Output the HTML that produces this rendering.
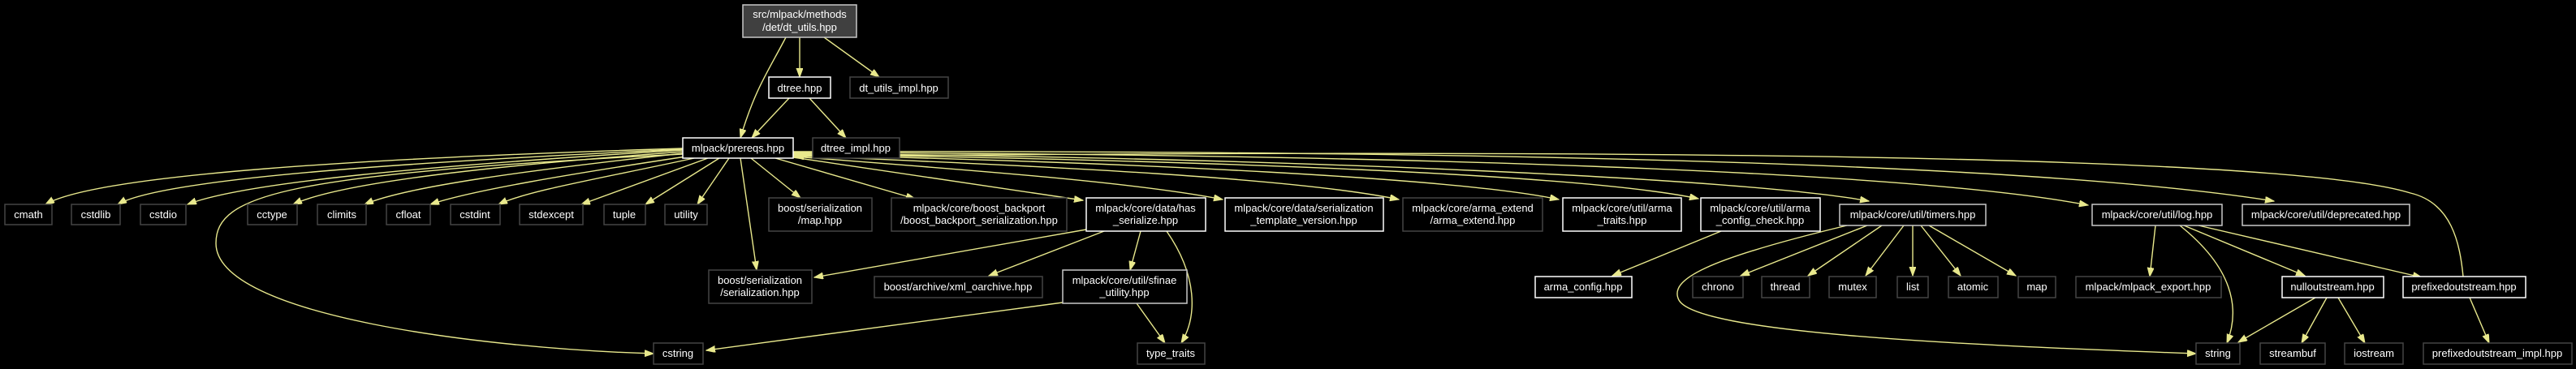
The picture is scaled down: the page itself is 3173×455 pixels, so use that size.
<!DOCTYPE html>
<html><head><meta charset="utf-8"><style>
html,body{margin:0;padding:0;background:#000;}
svg{display:block}
text{font-family:"Liberation Sans",sans-serif;font-size:13px;fill:#fff;text-anchor:middle}
.e{fill:none;stroke:#e8e88c;stroke-width:1.4}
.w{fill:#000;stroke:#ffffff;stroke-width:1.5}
.l{fill:#000;stroke:#c8c8c8;stroke-width:1.5}
.g{fill:#000;stroke:#444;stroke-width:1.5}
</style></head><body>
<svg width="3173" height="455" viewBox="0 0 3173 455" xmlns="http://www.w3.org/2000/svg">
<defs><marker id="a" markerUnits="userSpaceOnUse" markerWidth="12" markerHeight="10" refX="11" refY="4" orient="auto"><path d="M0,0 L11,4 L0,8 z" fill="#e8e88c" stroke="#e8e88c"/></marker></defs>
<rect width="3173" height="455" fill="#000"/>
<g marker-end="url(#a)">
<path class="e" d="M968,46 C945,90 930,110 912,170"/>
<path class="e" d="M985,46 L985,95"/>
<path class="e" d="M1015,46 L1083,95"/>
<path class="e" d="M972,121 L926,170"/>
<path class="e" d="M997,121 L1042,170"/>
<path class="e" d="M841,183 C450,195 120,215 56,252"/>
<path class="e" d="M841,184 C500,200 200,220 145,252"/>
<path class="e" d="M841,185 C520,205 300,225 231,252"/>
<path class="e" d="M841,187 C600,205 420,225 361,252"/>
<path class="e" d="M841,189 C650,210 500,230 449,252"/>
<path class="e" d="M845,193 C700,215 580,235 530,252"/>
<path class="e" d="M855,195 C740,220 650,235 614,252"/>
<path class="e" d="M872,195 L716,252"/>
<path class="e" d="M886,195 L795,252"/>
<path class="e" d="M898,195 L859,252"/>
<path class="e" d="M841,190 C350,215 266,240 266,300 C266,390 600,430 805,436"/>
<path class="e" d="M912,195 L932,333"/>
<path class="e" d="M925,195 L986,244"/>
<path class="e" d="M955,195 L1127,245"/>
<path class="e" d="M977,194 L1334,247"/>
<path class="e" d="M977,193 C1200,210 1400,225 1506,246"/>
<path class="e" d="M977,192 C1300,205 1600,220 1723,246"/>
<path class="e" d="M977,191 C1400,200 1800,220 1920,246"/>
<path class="e" d="M977,190 C1500,198 1950,215 2092,245"/>
<path class="e" d="M977,189 C1600,195 2150,220 2302,248"/>
<path class="e" d="M977,188 C1700,190 2350,210 2572,253"/>
<path class="e" d="M977,187 C1800,185 2500,200 2801,248"/>
<path class="e" d="M3034,341 C3030,300 3020,250 2969,238 C2800,185 1800,185 979,193"/>
<path class="e" d="M1338,283 L1003,342"/>
<path class="e" d="M1360,285 L1218,340"/>
<path class="e" d="M1405,285 L1392,333"/>
<path class="e" d="M1437,285 C1475,340 1475,390 1455,423"/>
<path class="e" d="M1309,373 L870,432"/>
<path class="e" d="M1400,374 L1435,423"/>
<path class="e" d="M2120,285 L1986,340"/>
<path class="e" d="M2300,278 L2144,340"/>
<path class="e" d="M2318,278 L2227,340"/>
<path class="e" d="M2345,278 L2298,340"/>
<path class="e" d="M2356,278 L2356,340"/>
<path class="e" d="M2366,278 L2415,340"/>
<path class="e" d="M2376,278 L2483,340"/>
<path class="e" d="M2275,278 C2100,320 2055,345 2068,370 C2090,410 2400,425 2705,436"/>
<path class="e" d="M2655,278 L2648,341"/>
<path class="e" d="M2685,278 C2750,330 2760,380 2743,423"/>
<path class="e" d="M2690,278 L2839,340"/>
<path class="e" d="M2708,278 L2983,342"/>
<path class="e" d="M2852,367 L2757,422"/>
<path class="e" d="M2866,367 L2835,423"/>
<path class="e" d="M2880,367 L2913,423"/>
<path class="e" d="M3042,367 L3066,423"/>
</g>
<rect x="915" y="6" width="140" height="40" fill="#404040" stroke="#c8c8c8" stroke-width="1.5"/>
<text x="985" y="22">src/mlpack/methods</text><text x="985" y="38">/det/dt_utils.hpp</text>
<rect class="w" x="947" y="95" width="76" height="26"/><text x="985" y="113">dtree.hpp</text>
<rect class="g" x="1047" y="95" width="121" height="26"/><text x="1107" y="113">dt_utils_impl.hpp</text>
<rect class="w" x="841" y="170" width="136" height="25"/><text x="909" y="187">mlpack/prereqs.hpp</text>
<rect class="g" x="1001" y="170" width="107" height="25"/><text x="1054" y="187">dtree_impl.hpp</text>
<g>
<rect class="g" x="6" y="252" width="58" height="25"/><text x="35" y="269">cmath</text>
<rect class="g" x="88" y="252" width="60" height="25"/><text x="118" y="269">cstdlib</text>
<rect class="g" x="173" y="252" width="56" height="25"/><text x="201" y="269">cstdio</text>
<rect class="g" x="305" y="252" width="61" height="25"/><text x="335" y="269">cctype</text>
<rect class="g" x="391" y="252" width="60" height="25"/><text x="421" y="269">climits</text>
<rect class="g" x="476" y="252" width="54" height="25"/><text x="503" y="269">cfloat</text>
<rect class="g" x="555" y="252" width="61" height="25"/><text x="585" y="269">cstdint</text>
<rect class="g" x="640" y="252" width="78" height="25"/><text x="679" y="269">stdexcept</text>
<rect class="g" x="744" y="252" width="51" height="25"/><text x="769" y="269">tuple</text>
<rect class="g" x="819" y="252" width="52" height="25"/><text x="845" y="269">utility</text>
<rect class="g" x="947" y="244" width="127" height="41"/><text x="1010" y="261">boost/serialization</text><text x="1010" y="276">/map.hpp</text>
<rect class="g" x="1098" y="244" width="216" height="41"/><text x="1206" y="261">mlpack/core/boost_backport</text><text x="1206" y="276">/boost_backport_serialization.hpp</text>
<rect class="w" x="1338" y="244" width="147" height="41"/><text x="1411" y="261">mlpack/core/data/has</text><text x="1411" y="276">_serialize.hpp</text>
<rect class="w" x="1509" y="244" width="195" height="41"/><text x="1606" y="261">mlpack/core/data/serialization</text><text x="1606" y="276">_template_version.hpp</text>
<rect class="g" x="1728" y="244" width="172" height="41"/><text x="1814" y="261">mlpack/core/arma_extend</text><text x="1814" y="276">/arma_extend.hpp</text>
<rect class="w" x="1925" y="244" width="146" height="41"/><text x="1998" y="261">mlpack/core/util/arma</text><text x="1998" y="276">_traits.hpp</text>
<rect class="w" x="2095" y="244" width="147" height="41"/><text x="2168" y="261">mlpack/core/util/arma</text><text x="2168" y="276">_config_check.hpp</text>
<rect class="l" x="2266" y="252" width="180" height="26"/><text x="2356" y="269">mlpack/core/util/timers.hpp</text>
<rect class="l" x="2577" y="252" width="160" height="26"/><text x="2657" y="269">mlpack/core/util/log.hpp</text>
<rect class="l" x="2762" y="252" width="206" height="26"/><text x="2865" y="269">mlpack/core/util/deprecated.hpp</text>
</g>
<g>
<rect class="g" x="873" y="333" width="127" height="41"/><text x="936" y="350">boost/serialization</text><text x="936" y="365">/serialization.hpp</text>
<rect class="g" x="1077" y="341" width="207" height="26"/><text x="1180" y="358">boost/archive/xml_oarchive.hpp</text>
<rect class="l" x="1309" y="333" width="153" height="41"/><text x="1385" y="350">mlpack/core/util/sfinae</text><text x="1385" y="365">_utility.hpp</text>
<rect class="w" x="1891" y="341" width="119" height="26"/><text x="1950" y="358">arma_config.hpp</text>
<rect class="g" x="2085" y="341" width="62" height="26"/><text x="2116" y="358">chrono</text>
<rect class="g" x="2170" y="341" width="59" height="26"/><text x="2199" y="358">thread</text>
<rect class="g" x="2253" y="341" width="58" height="26"/><text x="2282" y="358">mutex</text>
<rect class="g" x="2337" y="341" width="38" height="26"/><text x="2356" y="358">list</text>
<rect class="g" x="2400" y="341" width="61" height="26"/><text x="2430" y="358">atomic</text>
<rect class="g" x="2486" y="341" width="46" height="26"/><text x="2509" y="358">map</text>
<rect class="g" x="2557" y="341" width="179" height="26"/><text x="2646" y="358">mlpack/mlpack_export.hpp</text>
<rect class="w" x="2811" y="341" width="125" height="26"/><text x="2873" y="358">nulloutstream.hpp</text>
<rect class="w" x="2960" y="341" width="151" height="26"/><text x="3035" y="358">prefixedoutstream.hpp</text>
</g>
<g>
<rect class="g" x="805" y="423" width="61" height="26"/><text x="835" y="440">cstring</text>
<rect class="g" x="1401" y="423" width="83" height="26"/><text x="1442" y="440">type_traits</text>
<rect class="g" x="2705" y="423" width="54" height="26"/><text x="2732" y="440">string</text>
<rect class="g" x="2784" y="423" width="80" height="26"/><text x="2824" y="440">streambuf</text>
<rect class="g" x="2888" y="423" width="72" height="26"/><text x="2924" y="440">iostream</text>
<rect class="g" x="2985" y="423" width="183" height="26"/><text x="3076" y="440">prefixedoutstream_impl.hpp</text>
</g>
</svg>
</body></html>
